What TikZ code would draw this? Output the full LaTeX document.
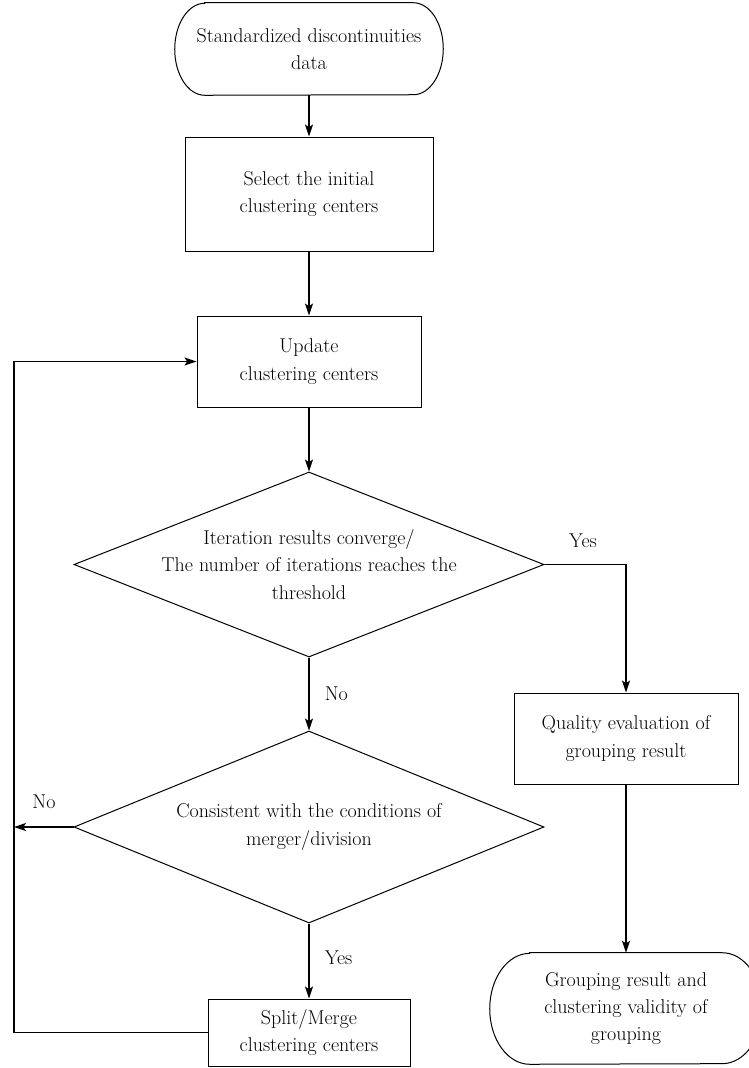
\documentclass[tikz,border=0pt]{standalone}
\usetikzlibrary{arrows.meta,shapes.geometric}
\begin{document}
\begin{tikzpicture}[x=0.75pt,y=-0.75pt,
    every node/.style={font=\fontsize{15}{20.5}\selectfont, align=center},
    box/.style={draw, line width=0.75pt, rectangle, inner sep=0pt},
    term/.style={inner sep=0pt},
    decision/.style={draw, line width=0.75pt, diamond, inner sep=0pt},
    flow/.style={line width=1pt, -{Stealth[length=9pt,width=6pt,inset=2pt]}},
    link/.style={line width=1pt}]
  \useasboundingbox (0,0) rectangle (749,1068);
  % terminals are drawn by hand (flat elliptic ends)
  \node[term, minimum width=201pt, minimum height=69pt] (start) at (309,49) {Standardized discontinuities\\data};
  \draw[line width=0.75pt] ([xshift=22.5pt]start.north west) -- ([xshift=-22.5pt]start.north east)
      arc[start angle=90, end angle=-90, x radius=22.5pt, y radius=34.5pt]
      -- ([xshift=22.5pt]start.south west)
      arc[start angle=270, end angle=90, x radius=22.5pt, y radius=34.5pt] -- cycle;
  \node[box, minimum width=186pt, minimum height=85.5pt] (select) at (309,194) {Select the initial\\clustering centers};
  \node[box, minimum width=168pt, minimum height=68.25pt] (update) at (309,361.5) {Update\\clustering centers};
  \node[decision, minimum width=352.5pt, minimum height=138.75pt] (conv) at (309,564.5) {};
  \node at (conv) {Iteration results converge/\\The number of iterations reaches the\\threshold};
  \node[decision, minimum width=352.5pt, minimum height=144pt] (cond) at (309,827) {};
  \node at (cond) {Consistent with the conditions of\\merger/division};
  \node[box, minimum width=151.5pt, minimum height=50.25pt] (split) at (309,1032.5) {Split/Merge\\clustering centers};
  \node[box, minimum width=168pt, minimum height=68.25pt] (quality) at (626,738.5) {Quality evaluation of\\grouping result};
  \node[term, minimum width=204pt, minimum height=83.25pt] (result) at (626,1008.5) {Grouping result and\\clustering validity of\\grouping};
  \draw[line width=0.75pt] ([xshift=30pt]result.north west) -- ([xshift=-30pt]result.north east)
      arc[start angle=90, end angle=-90, x radius=30pt, y radius=41.6pt]
      -- ([xshift=30pt]result.south west)
      arc[start angle=270, end angle=90, x radius=30pt, y radius=41.6pt] -- cycle;
  \coordinate (loopbot) at (14,1032.5);
  \coordinate (looptop) at (14,361.5);
  \coordinate (loopmid) at (14,827);
  \coordinate (yescorner) at (626,564.5);
  % connectors
  \draw[flow] (start) -- (select);
  \draw[flow] (select) -- (update);
  \draw[flow] (update) -- (conv.north);
  \draw[flow] (conv.south) -- node[right=8pt, pos=0.5] {No} (cond.north);
  \draw[flow] (cond.south) -- node[right=8pt, pos=0.45] {Yes} (split);
  \draw[flow] (conv.east) -- (yescorner) -- (quality);
  \node at (583,541) {Yes};
  \draw[flow] (quality) -- (result.north);
  \draw[flow] (cond.west) -- (loopmid);
  \node at (44,802) {No};
  \draw[link] (split) -- (loopbot);
  \draw[flow] (loopbot) -- (looptop) -- (update);
\end{tikzpicture}
\end{document}
